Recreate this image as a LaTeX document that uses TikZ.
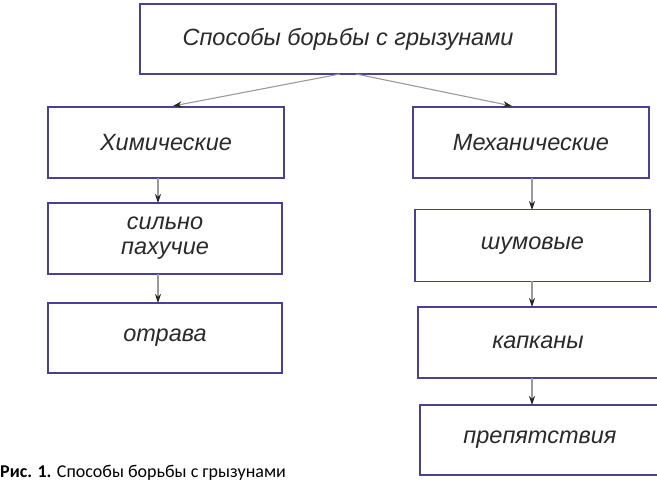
\documentclass[tikz,border=0pt]{standalone}
\usepackage{fontspec}
\setmainfont{Liberation Sans}
\newfontfamily\capfont{Carlito}
\usetikzlibrary{arrows.meta}
\definecolor{boxblue}{HTML}{4B3F96}
\definecolor{txtgray}{HTML}{2A2A2A}
\definecolor{linegray}{HTML}{9A9A9A}
\begin{document}
\begin{tikzpicture}[x=1pt,y=-1pt,
  blk/.style={draw=boxblue,line width=1.8pt,fill=white,inner sep=0pt,
    font=\fontsize{23.5}{25}\selectfont\itshape,text=txtgray,align=center},
  conn/.style={draw=linegray,line width=1.1pt,-{Stealth[length=9pt,width=6pt,color=black!85]}}]
\useasboundingbox (0,0) rectangle (657,482);
\clip (0,0) rectangle (657,482);
\node[blk,minimum width=416pt,minimum height=70pt] (top) at (348,39) {Способы борьбы с грызунами};
\node[blk,minimum width=236pt,minimum height=71pt] (chem) at (166,142.5) {Химические};
\node[blk,minimum width=234pt,minimum height=71pt] (smell) at (165,238.5) {сильно\\пахучие};
\node[blk,minimum width=234pt,minimum height=70pt] (poison) at (165,338) {отрава};
\node[blk,minimum width=236pt,minimum height=71pt] (mech) at (531,142.5) {Механические};
\node[blk,minimum width=235pt,minimum height=72pt] (noise) at (532.5,245.5) {шумовые};
\node[blk,minimum width=240pt,minimum height=71pt] (trap) at (538,342.5) {капканы};
\node[blk,minimum width=240pt,minimum height=70pt] (obst) at (540,440) {препятствия};
\coordinate (tl) at (340,74);
\coordinate (tr) at (356,74);
\draw[conn] (tl) -- (173,106);
\draw[conn] (tr) -- (512,106);
\draw[conn] (158,178) -- (158,203);
\draw[conn] (158,274) -- (158,303);
\draw[conn] (532,178) -- (532,210);
\draw[conn] (532,281) -- (532,307);
\draw[conn] (532,378) -- (532,405);
\node[anchor=base west,inner sep=0pt,font=\capfont\fontsize{18}{20}\selectfont,text=black] (cap) at (0,477) {\textbf{Рис. 1.} Способы борьбы с грызунами};
\end{tikzpicture}
\end{document}
